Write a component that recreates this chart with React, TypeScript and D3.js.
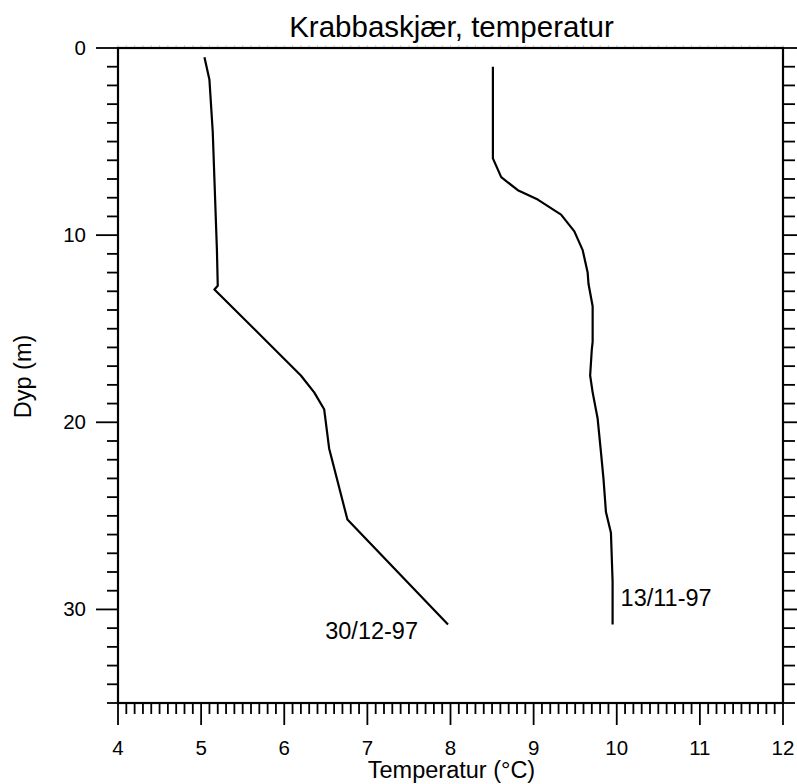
import * as d3 from 'd3';

const depthDec = [0.5, 1.7, 4.5, 10.8, 12.7, 12.9, 17.5, 18.4, 19.3, 21.4, 25.2, 30.8];
const tempDec = [5.04, 5.1, 5.14, 5.19, 5.2, 5.16, 6.2, 6.36, 6.48, 6.54, 6.76, 7.97];

const depthNov = [1.0, 5.9, 6.9, 7.6, 8.1, 8.9, 9.8, 10.8, 12.0, 12.6, 13.8, 15.7, 16.1, 17.5, 18.4, 19.8, 21.6, 23.0, 24.8, 25.9, 28.5, 30.8];
const tempNov = [8.51, 8.51, 8.61, 8.81, 9.05, 9.33, 9.49, 9.59, 9.65, 9.66, 9.71, 9.71, 9.7, 9.68, 9.71, 9.77, 9.81, 9.84, 9.87, 9.93, 9.95, 9.95];

const xTickLabels = [4, 5, 6, 7, 8, 9, 10, 11, 12];
const yTickLabels = [0, 10, 20, 30];

const font = '"Liberation Sans", Arial, sans-serif';

export default function App() {
  const W = 797;
  const H = 784;
  const x = d3.scaleLinear().domain([4, 12]).range([118, 783]);
  const y = d3.scaleLinear().domain([0, 35]).range([48, 703]);

  const line = d3
    .line<[number, number]>()
    .x((d) => x(d[0]))
    .y((d) => y(d[1]));

  const dec = tempDec.map((t, i) => [t, depthDec[i]] as [number, number]);
  const nov = tempNov.map((t, i) => [t, depthNov[i]] as [number, number]);

  const xMinor = d3.range(40, 121).map((v) => v / 10);
  const yMinor = d3.range(0, 36);

  const [x0, x1] = x.range();
  const [y0, y1] = y.range();

  return (
    <svg width={W} height={H} style={{ position: 'absolute', left: 0, top: 0 }} fontFamily={font}>
      <rect width={W} height={H} fill="#fff" />
      <text x={(x0 + x1) / 2 + 1} y={37} textAnchor="middle" fontSize={29.5}>
        Krabbaskjær, temperatur
      </text>

      {/* faint top ticks */}
      <g stroke="#d4d4d4" strokeWidth={1}>
        {xMinor.map((v) => (
          <line key={'t' + v} x1={x(v)} x2={x(v)} y1={y0} y2={y0 - 3} />
        ))}
      </g>

      {/* axis ticks */}
      <g stroke="#000" strokeWidth={1.8}>
        {xMinor.map((v) => {
          const major = Math.abs(v - Math.round(v)) < 1e-6;
          return <line key={'b' + v} x1={x(v)} x2={x(v)} y1={y1} y2={y1 + (major ? 22 : 11)} />;
        })}
        {yMinor.map((v) => {
          const major = v % 10 === 0;
          return (
            <g key={'y' + v}>
              <line x1={x0} x2={x0 - (major ? 22 : 11)} y1={y(v)} y2={y(v)} />
              <line x1={x1} x2={x1 + (major ? 22 : 12)} y1={y(v)} y2={y(v)} />
            </g>
          );
        })}
      </g>

      {/* frame */}
      <rect x={x0} y={y0} width={x1 - x0} height={y1 - y0} fill="none" stroke="#000" strokeWidth={2.2} />

      <g fontSize={20.5} textAnchor="middle">
        {xTickLabels.map((v) => (
          <text key={v} x={x(v)} y={755}>
            {v}
          </text>
        ))}
      </g>
      <g fontSize={20.5} textAnchor="end">
        {yTickLabels.map((v) => (
          <text key={v} x={x0 - 32} y={y(v) + 7}>
            {v}
          </text>
        ))}
      </g>

      <text x={(x0 + x1) / 2 + 1} y={778} textAnchor="middle" fontSize={23.5}>
        Temperatur (°C)
      </text>
      <text transform={`translate(31, ${(y0 + y1) / 2 + 1}) rotate(-90)`} textAnchor="middle" fontSize={23.5}>
        Dyp (m)
      </text>

      <path d={line(dec) ?? ''} fill="none" stroke="#000" strokeWidth={2.2} strokeLinejoin="round" />
      <path d={line(nov) ?? ''} fill="none" stroke="#000" strokeWidth={2.2} strokeLinejoin="round" />

      <text x={x(tempDec[tempDec.length - 1]) - 30} y={y(depthDec[depthDec.length - 1]) + 15} textAnchor="end" fontSize={23.5}>
        30/12-97
      </text>
      <text x={x(tempNov[tempNov.length - 1]) + 8} y={y(depthNov[depthNov.length - 1]) - 18} textAnchor="start" fontSize={23.5}>
        13/11-97
      </text>
    </svg>
  );
}
